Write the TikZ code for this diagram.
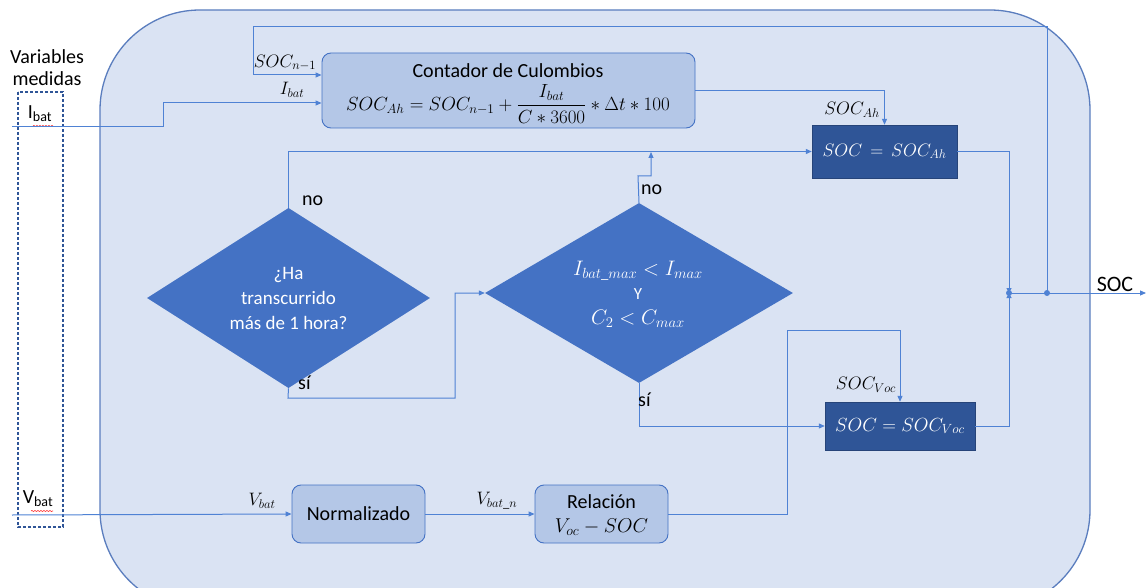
\RequirePackage{fix-cm}
\documentclass[tikz,border=0pt]{standalone}
\usepackage{amsmath}
\usepackage{fontspec}
\setmainfont{Carlito}
\usetikzlibrary{shapes.geometric,arrows.meta,decorations.pathmorphing}
\definecolor{bgfill}{HTML}{DAE3F3}
\definecolor{bgline}{HTML}{5A7DBE}
\definecolor{ln}{HTML}{4F82D4}
\definecolor{boxfill}{HTML}{B4C7E7}
\definecolor{boxline}{HTML}{4472C4}
\definecolor{dia}{HTML}{4472C4}
\definecolor{dark}{HTML}{2F5597}
\definecolor{dashc}{HTML}{2F5597}
\tikzset{
  line/.style={draw=ln, line width=1pt},
  arr/.style={line, -{Triangle[length=6pt,width=5pt]}},
  lbox/.style={draw=boxline, fill=boxfill, rounded corners=9pt, line width=0.9pt, inner sep=0pt, align=center, font=\fontsize{20}{26}\selectfont},
  dbox/.style={draw=dark!80!black, fill=dark, inner sep=0pt, text=white, font=\fontsize{18}{22}\selectfont},
  dnode/.style={diamond, fill=dia, draw=none, inner sep=0pt, text=white, align=center, font=\fontsize{19}{25}\selectfont},
  lab/.style={font=\fontsize{18}{21}\selectfont, inner sep=0pt},
  txt/.style={font=\fontsize{20}{24}\selectfont, inner sep=0pt},
  squig/.style={red!80, line width=0.6pt, decorate, decoration={snake, amplitude=0.6pt, segment length=3pt}},
}
\begin{document}
\begin{tikzpicture}[x=1pt,y=-1pt]
\useasboundingbox (0,0) rectangle (1146,588);
\clip (0,0) rectangle (1146,588);
% outer rounded panel
\draw[fill=bgfill, draw=bgline, line width=1.3pt, rounded corners=100pt] (100,10) rectangle (1090,610);

% measured variables
\node[txt, align=center] (varm) at (47,68) {Variables\\[-2pt]medidas};
\draw[dashc, line width=1.2pt, dash pattern=on 3pt off 2pt] (18,92) rectangle (63,527);
\node[txt] (ibatl) at (40,114) {I\textsubscript{bat}};
\node[txt] (vbatl) at (38,499) {V\textsubscript{bat}};
\draw[squig] (33,126) -- (53,126);
\draw[squig] (31,511) -- (53,511);
\coordinate (in1) at (12,127);
\coordinate (in2) at (12,515);

% blocks
\node[lbox, minimum width=373pt, minimum height=75pt] (cont) at (508.5,90.5) {};
\node[txt] (contt) at (508,71) {Contador de Culombios};
\node[txt, font=\fontsize{19}{22}\selectfont] (contf) at (508,104) {$SOC_{Ah} = SOC_{n-1} + \dfrac{I_{bat}}{C * 3600} * \Delta t * 100$};

\node[dbox, minimum width=145pt, minimum height=53pt] (socah) at (884.5,151.5) {$SOC\,=\,SOC_{Ah}$};
\node[dbox, minimum width=150pt, minimum height=48pt, font=\fontsize{19}{22}\selectfont] (socvoc) at (900,426) {$SOC = SOC_{Voc}$};

\node[dnode, minimum width=283pt, minimum height=160pt] (d1) at (288.5,298) {¿Ha\\transcurrido\\más de 1 hora?};
\node[dnode, minimum width=308pt, minimum height=180pt] (d2) at (639,293) {};
\node[text=white, font=\fontsize{21}{24}\selectfont, inner sep=0pt] (d2a) at (638,271) {$I_{bat\_max} < I_{max}$};
\node[text=white, font=\fontsize{17}{20}\selectfont, inner sep=0pt] (d2b) at (638,294) {Y};
\node[text=white, font=\fontsize{21}{24}\selectfont, inner sep=0pt] (d2c) at (638,319) {$C_2 < C_{max}$};

\node[lbox, minimum width=133pt, minimum height=58pt] (norm) at (358.5,514) {Normalizado};
\node[lbox, minimum width=133pt, minimum height=58pt] (rel) at (601.5,514) {};
\node[txt] (relt) at (601.5,502) {Relación};
\node[txt] (relf) at (601.5,527) {$V_{oc} - SOC$};

% connectors
\coordinate (jn) at (1009,293);
\coordinate (fb) at (1047,293);
\coordinate (out) at (1146,293);

\draw[arr] (in1) -- (163,127) -- (163,103) -- (cont.west |- 0,103);
\draw[arr] (fb) -- (1047,27) -- (253,27) -- (253,75) -- (cont.west |- 0,75);
\draw[arr] (cont.east |- 0,91) -| (socah.north);
\draw[arr] (d1.north) |- (socah.west);
\draw[arr] (d2.north) -- (638,176) -- (651,176) -- (651,152);
\draw[arr] (d1.south) -- (288,398) -- (455,398) -- (455,293) -- (d2.west);
\draw[arr] (d2.south) |- (socvoc.west);
\draw[arr] (in2) -- (norm.west);
\draw[arr] (norm.east) -- (rel.west);
\draw[arr] (rel.east) -- (787,514) -- (787,330) -| (socvoc.north);
\draw[line, -{Triangle[length=5pt,width=5pt]}] (socah.east) -| (jn);
\draw[line, -{Triangle[length=5pt,width=5pt]}] (socvoc.east) -| (jn);
\draw[arr] (jn) -- (out);
\fill[ln] (jn) circle (3pt);
\fill[ln] (fb) circle (3pt);

% labels
\node[lab] (l1) at (285,63) {$SOC_{n-1}$};
\node[lab] (l2) at (292,90) {$I_{bat}$};
\node[lab] (l3) at (852,110) {$SOC_{Ah}$};
\node[lab] (l4) at (866,385) {$SOC_{Voc}$};
\node[lab] (l5) at (262,501) {$V_{bat}$};
\node[lab] (l6) at (497,501) {$V_{bat\_n}$};
\node[txt, anchor=west] (no1) at (302,201) {no};
\node[txt, anchor=west] (no2) at (641,190) {no};
\node[txt, anchor=west] (si1) at (298,383) {sí};
\node[txt, anchor=west] (si2) at (638,400) {sí};
\node[txt, font=\fontsize{22}{26}\selectfont] (socl) at (1115,284) {SOC};
\end{tikzpicture}
\end{document}
